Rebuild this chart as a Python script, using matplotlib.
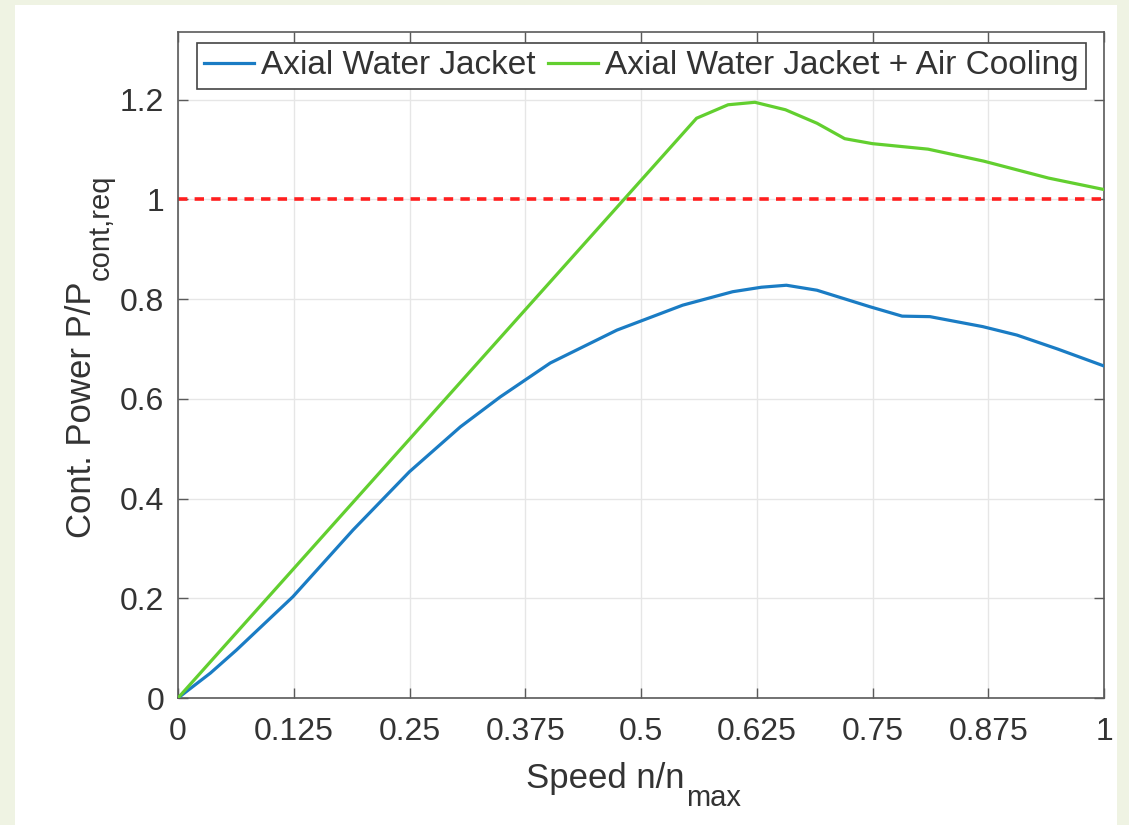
import matplotlib
matplotlib.use("Agg")
import matplotlib.pyplot as plt
from matplotlib.patches import Rectangle
from matplotlib.transforms import IdentityTransform
from matplotlib.ticker import FormatStrFormatter

## values
speed_water = [0, 0.035, 0.063, 0.124, 0.189, 0.25, 0.305, 0.348, 0.402, 0.474,
               0.545, 0.599, 0.63, 0.657, 0.69, 0.747, 0.782, 0.812, 0.869, 0.906,
               0.95, 1.0]
power_water = [0, 0.05, 0.096, 0.203, 0.337, 0.454, 0.544, 0.604, 0.672, 0.738,
               0.788, 0.815, 0.824, 0.828, 0.818, 0.785, 0.766, 0.765, 0.745, 0.728,
               0.70, 0.666]

speed_air = [0, 0.56, 0.594, 0.623, 0.656, 0.69, 0.72, 0.75, 0.81, 0.87, 0.94, 1.0]
power_air = [0, 1.163, 1.19, 1.195, 1.18, 1.153, 1.122, 1.112, 1.101, 1.077, 1.043, 1.02]

req_level = 1.0
x_ticks = [0, 0.125, 0.25, 0.375, 0.5, 0.625, 0.75, 0.875, 1]
y_ticks = [0, 0.2, 0.4, 0.6, 0.8, 1.0, 1.2]
series_names = ["Axial Water Jacket", "Axial Water Jacket + Air Cooling"]
xlabel_main, xlabel_sub = "Speed n/n", "max"
ylabel_main, ylabel_sub = "Cont. Power P/P", "cont,req"

plt.rcParams['font.family'] = ['Liberation Sans', 'DejaVu Sans']

W, H = 1129, 825
txt = '#333333'

fig = plt.figure(figsize=(W/100, H/100), dpi=100, facecolor='#eff3e3')
## white slide area, kept behind the axes
fig.patches.append(Rectangle((15/W, 0), (1117-15)/W, (H-5)/H,
                             transform=fig.transFigure, facecolor='white',
                             edgecolor='none', zorder=-10))

ax = fig.add_axes([178/W, 1-698/H, (1104-178)/W, (698-32)/H])
ax.set_facecolor('white')

ax.plot(speed_water, power_water, color='#1a7cc4', lw=2.3, label=series_names[0], zorder=3)
ax.plot(speed_air, power_air, color='#62cf2f', lw=2.3, label=series_names[1], zorder=3)
ax.plot([0, 1], [req_level, req_level], color='#ff1f1f', lw=2.6,
        dashes=(2.6, 2.0), zorder=2)

ax.set_xlim(0, 1)
ax.set_ylim(0, 1.336)
ax.set_xticks(x_ticks)
ax.set_yticks(y_ticks)
ax.xaxis.set_major_formatter(FormatStrFormatter('%g'))
ax.yaxis.set_major_formatter(FormatStrFormatter('%g'))

ax.grid(True, color='#e6e6e6', lw=1.0)
ax.set_axisbelow(True)
for s in ax.spines.values():
    s.set_color('#5a5a5a')
    s.set_linewidth(1.2)
ax.tick_params(direction='in', length=7, width=1.0, color='#5a5a5a',
               top=True, right=True, labelsize=23, labelcolor=txt)
ax.tick_params(axis='x', pad=14)
ax.tick_params(axis='y', pad=10)

leg = ax.legend(loc='upper right', bbox_to_anchor=(0.9806, 0.9835), borderaxespad=0,
                ncol=2, fontsize=24, frameon=True, fancybox=False,
                borderpad=0.22, handlelength=1.5, handletextpad=0.2,
                columnspacing=0.4)
leg.get_frame().set_edgecolor('#444444')
leg.get_frame().set_linewidth(1.2)
leg.get_frame().set_alpha(1)
for t in leg.get_texts():
    t.set_color(txt)

## axis labels with MATLAB-style (large, deep) subscripts, placed in pixels
px = IdentityTransform()
r = fig.canvas.get_renderer()

xm = fig.text(526, H-788, xlabel_main, transform=px, fontsize=25, color=txt,
              ha='left', va='baseline')
bb = xm.get_window_extent(r)
fig.text(bb.x1 + 2, H-806, xlabel_sub, transform=px, fontsize=21, color=txt,
         ha='left', va='baseline')

ym = fig.text(91, H-538, ylabel_main, transform=px, fontsize=25, color=txt,
              ha='left', va='baseline', rotation=90, rotation_mode='anchor')
bb = ym.get_window_extent(r)
fig.text(109, bb.y1 + 2, ylabel_sub, transform=px, fontsize=21, color=txt,
         ha='left', va='baseline', rotation=90, rotation_mode='anchor')

fig.savefig('out.png', dpi=100, facecolor=fig.get_facecolor())
